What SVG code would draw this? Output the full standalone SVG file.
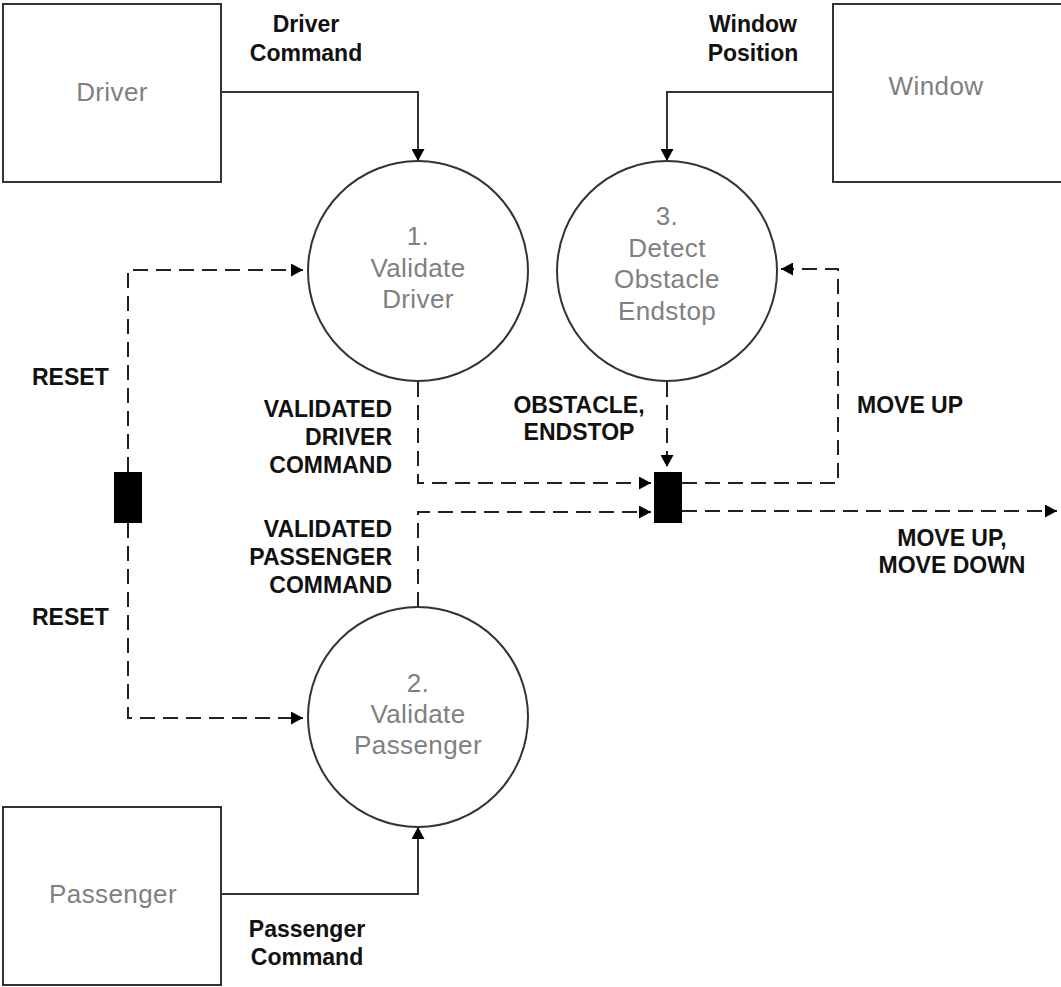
<svg xmlns="http://www.w3.org/2000/svg" width="1061" height="987" viewBox="0 0 1061 987">
<style>
.box{fill:#fff;stroke:#333;stroke-width:2}
.proc{fill:#fff;stroke:#333;stroke-width:2}
.bar{fill:#000}
.gt{font-family:"Liberation Sans",Arial,sans-serif;font-size:26px;fill:#808080;text-anchor:middle;letter-spacing:0.4px}
.lb{font-family:"Liberation Sans",Arial,sans-serif;font-size:23px;font-weight:bold;fill:#111}
.c{text-anchor:middle}
.r{text-anchor:end}
.solid{fill:none;stroke:#333;stroke-width:2;marker-end:url(#ah)}
.dash{fill:none;stroke:#222;stroke-width:2;stroke-dasharray:15 8;marker-end:url(#ah)}
</style>
<defs>
<marker id="ah" markerUnits="userSpaceOnUse" markerWidth="12" markerHeight="13" refX="12" refY="6.5" orient="auto" viewBox="0 0 12 13">
<path d="M0,0 L12,6.5 L0,13 z" fill="#000"/>
</marker>
</defs>
<g id="connectors">
<path class="solid" d="M221,92 L418,92 L418,161"/>
<path class="solid" d="M833,92 L667,92 L667,161"/>
<path class="solid" d="M221,894 L418,894 L418,827"/>
<path class="dash" d="M128,472 L128,270 L303,270"/>
<path class="dash" d="M128,523 L128,718 L303,718"/>
<path class="dash" d="M418,382 L418,483 L651,483"/>
<path class="dash" d="M418,607 L418,512 L651,512"/>
<path class="dash" d="M667,382 L667,467"/>
<path class="dash" d="M682,483 L838,483 L838,269 L781,269"/>
<path class="dash" d="M682,511 L1057,511"/>
</g>
<g id="driver">
<rect class="box" x="3" y="4" width="218" height="178"/>
<text class="gt" x="112" y="101">Driver</text>
</g>
<g id="window">
<rect class="box" x="833" y="4" width="240" height="178"/>
<text class="gt" x="936" y="95">Window</text>
</g>
<g id="passenger">
<rect class="box" x="3" y="807" width="218" height="178"/>
<text class="gt" x="113" y="903">Passenger</text>
</g>
<g id="p1">
<circle class="proc" cx="418" cy="271" r="110"/>
<text class="gt" x="418" y="245">1.</text>
<text class="gt" x="418" y="277">Validate</text>
<text class="gt" x="418" y="308">Driver</text>
</g>
<g id="p2">
<circle class="proc" cx="418" cy="717" r="110"/>
<text class="gt" x="418" y="692">2.</text>
<text class="gt" x="418" y="723">Validate</text>
<text class="gt" x="418" y="754">Passenger</text>
</g>
<g id="p3">
<circle class="proc" cx="667" cy="271" r="110"/>
<text class="gt" x="667" y="225">3.</text>
<text class="gt" x="667" y="257">Detect</text>
<text class="gt" x="667" y="288">Obstacle</text>
<text class="gt" x="667" y="320">Endstop</text>
</g>
<g id="bar-reset">
<rect class="bar" x="114" y="472" width="28" height="51"/>
</g>
<g id="bar-merge">
<rect class="bar" x="654" y="472" width="28" height="51"/>
</g>
<g id="labels">
<text class="lb c" x="306" y="32">Driver</text>
<text class="lb c" x="306" y="61">Command</text>
<text class="lb c" x="753" y="32">Window</text>
<text class="lb c" x="753" y="61">Position</text>
<text class="lb" x="32" y="385">RESET</text>
<text class="lb" x="32" y="625">RESET</text>
<text class="lb r" x="392" y="417">VALIDATED</text>
<text class="lb r" x="392" y="445">DRIVER</text>
<text class="lb r" x="392" y="473">COMMAND</text>
<text class="lb r" x="392" y="537">VALIDATED</text>
<text class="lb r" x="392" y="565">PASSENGER</text>
<text class="lb r" x="392" y="593">COMMAND</text>
<text class="lb c" x="579" y="413">OBSTACLE,</text>
<text class="lb c" x="579" y="440">ENDSTOP</text>
<text class="lb" x="857" y="413">MOVE UP</text>
<text class="lb c" x="952" y="546">MOVE UP,</text>
<text class="lb c" x="952" y="573">MOVE DOWN</text>
<text class="lb c" x="307" y="937">Passenger</text>
<text class="lb c" x="307" y="965">Command</text>
</g>
</svg>
